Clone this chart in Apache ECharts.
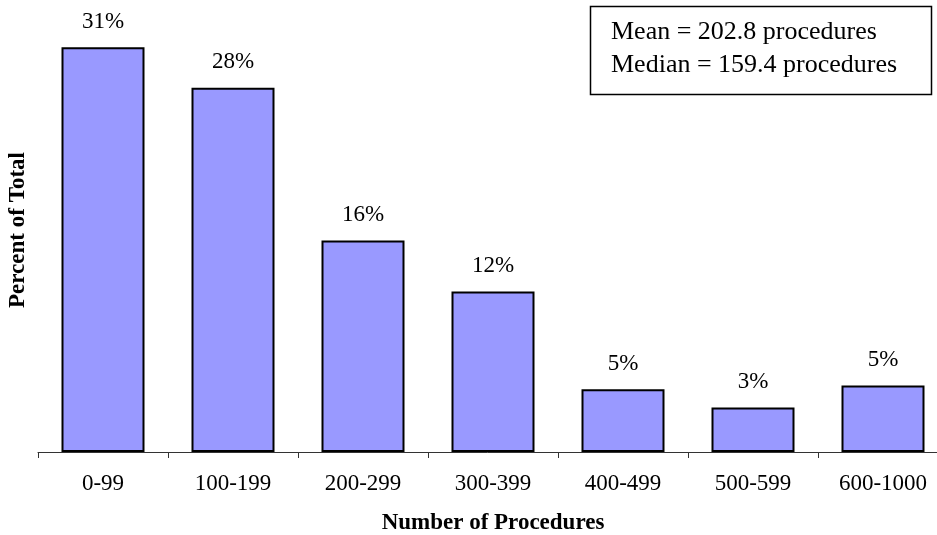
<!DOCTYPE html>
<html>
<head>
<meta charset="utf-8">
<script src="https://cdn.jsdelivr.net/npm/echarts@6/dist/echarts.min.js"></script>
<style>html,body{margin:0;padding:0;background:#fff}#c{width:937px;height:535px}</style>
</head>
<body>
<div id="c"></div>
<script>
const categories = ['0-99', '100-199', '200-299', '300-399', '400-499', '500-599', '600-1000'];
const percents = [31.0, 27.9, 16.2, 12.3, 4.8, 3.4, 5.1];
const statsLines = ['Mean = 202.8 procedures', 'Median = 159.4 procedures'];
const xTitle = 'Number of Procedures';
const yTitle = 'Percent of Total';

const font = '"Liberation Serif", "Times New Roman", serif';
const chart = echarts.init(document.getElementById('c'));
chart.setOption({
  animation: false,
  backgroundColor: '#fff',
  grid: { left: 38, top: 8, width: 910, height: 444, containLabel: false, outerBoundsMode: 'none' },
  xAxis: {
    type: 'category',
    data: categories,
    name: xTitle,
    nameLocation: 'middle',
    nameGap: 60,
    nameTextStyle: { fontFamily: font, fontSize: 23, fontWeight: 'bold', color: '#000' },
    axisLine: { lineStyle: { color: '#333', width: 1 } },
    axisTick: { show: true, length: 6, lineStyle: { color: '#333' } },
    axisLabel: { fontFamily: font, fontSize: 23, color: '#000', margin: 20 }
  },
  yAxis: {
    type: 'value',
    min: 0, max: 34,
    name: yTitle,
    nameLocation: 'middle',
    nameGap: 8,
    nameRotate: 90,
    nameTextStyle: { fontFamily: font, fontSize: 23, fontWeight: 'bold', color: '#000' },
    axisLine: { show: false },
    axisTick: { show: false },
    axisLabel: { show: false },
    splitLine: { show: false }
  },
  series: [{
    type: 'bar',
    data: percents,
    barWidth: 83,
    itemStyle: { color: '#9999FF', borderColor: '#000', borderWidth: 2 },
    label: {
      show: true,
      position: 'top',
      distance: 14,
      fontFamily: font,
      fontSize: 23,
      color: '#000',
      formatter: p => Math.round(p.value) + '%'
    }
  }],
  graphic: [
    { type: 'rect', shape: { x: 590.5, y: 6.5, width: 341, height: 88 },
      style: { fill: '#fff', stroke: '#000', lineWidth: 1.5 } },
    { type: 'text', left: 611, top: 16,
      style: { text: statsLines.join('\n'), font: '26px ' + font, fill: '#000', lineHeight: 33 } }
  ]
});
</script>
</body>
</html>
